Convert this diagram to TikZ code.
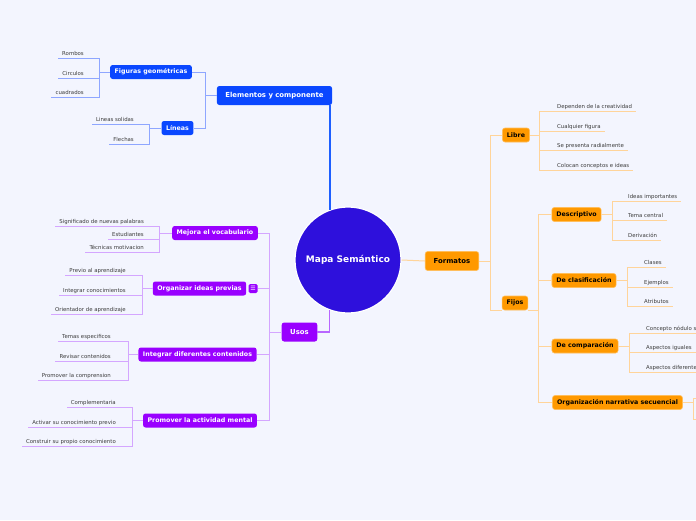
\documentclass[tikz,border=0pt]{standalone}
\usepackage{fontspec}
\setmainfont{DejaVu Sans}
\usetikzlibrary{positioning}
\definecolor{bgblue}{HTML}{F3F5FE}
\definecolor{centreblue}{HTML}{2E10DC}
\definecolor{nodeblue}{HTML}{0A47FF}
\definecolor{linkblue}{HTML}{8EA6FF}
\definecolor{stemblue}{RGB}{30,95,255}
\definecolor{nodepurple}{HTML}{9900FF}
\definecolor{linkpurple}{HTML}{D4A6FF}
\definecolor{stempurple}{HTML}{B866FF}
\definecolor{nodeorange}{HTML}{FF9900}
\definecolor{edgeorange}{HTML}{FFBE5C}
\definecolor{linkorange}{HTML}{FFD49A}
\definecolor{leaftext}{HTML}{3C3C3C}
\tikzstyle{centre} = [circle, fill=centreblue, draw=white, line width=1.2pt, minimum size=106pt, inner sep=0pt, text=white, font=\fontsize{9}{10}\selectfont\bfseries]
\tikzstyle{main} = [rounded corners=2.5pt, minimum height=19pt, inner xsep=8.5pt, inner ysep=0pt, font=\fontsize{6.9}{8}\selectfont\bfseries]
\tikzstyle{sub} = [rounded corners=2.5pt, minimum height=14pt, inner xsep=4.5pt, inner ysep=0pt, font=\fontsize{6.3}{7}\selectfont\bfseries]
\tikzstyle{mainblue} = [main, fill=nodeblue, text=white]
\tikzstyle{mainpurple} = [main, fill=nodepurple, text=white]
\tikzstyle{mainorange} = [main, fill=nodeorange, draw=edgeorange, line width=0.6pt, text=black]
\tikzstyle{subblue} = [sub, fill=nodeblue, text=white]
\tikzstyle{subpurple} = [sub, fill=nodepurple, text=white]
\tikzstyle{suborange} = [sub, fill=nodeorange, draw=edgeorange, line width=0.6pt, text=black]
\tikzstyle{notebox} = [rounded corners=1.5pt, fill=nodepurple, text=white, minimum size=9pt, inner sep=0pt, font=\fontsize{6}{6}\selectfont]
\tikzstyle{leaf} = [font=\fontsize{5.4}{6}\selectfont, text=leaftext, inner xsep=4pt, inner ysep=1.5pt, text height=4pt, text depth=1pt]
\tikzstyle{bluelink} = [draw=linkblue, line width=1pt]
\tikzstyle{stem} = [draw=stemblue, line width=2pt]
\tikzstyle{purplestem} = [draw=stempurple, line width=1.5pt]
\tikzstyle{purplelink} = [draw=linkpurple, line width=1pt]
\tikzstyle{orangelink} = [draw=linkorange, line width=1pt]

\begin{document}
\begin{tikzpicture}[x=1pt,y=-1pt]
        % Background
        \path[fill=bgblue, use as bounding box] (0,0) rectangle (696,520);
        \clip (0,0) rectangle (696,520);

        % Centre and main branches
        \node (mapa) [centre] at (348,260) {Mapa Semántico};
        \node (elementos) [mainblue] at (274.5,95.5) {Elementos y componente};
        \node (usos) [mainpurple] at (299.5,332) {Usos};
        \node (formatos) [mainorange] at (452,261) {Formatos};

        % Elementos y componente
        \node (figuras) [subblue] at (151,72) {Figuras geométricas};
        \node (lineas) [subblue] at (177.5,128) {Líneas};
        \node (rombos) [leaf, anchor=south east] at (88,58) {Rombos};
        \node (circulos) [leaf, anchor=south east] at (88,78) {Circulos};
        \node (cuadrados) [leaf, anchor=south east] at (88,97) {cuadrados};
        \node (solidas) [leaf, anchor=south east] at (138,124) {Lineas solidas};
        \node (flechas) [leaf, anchor=south east] at (138,144) {Flechas};

        % Usos
        \node (mejora) [subpurple] at (215,233) {Mejora el vocabulario};
        \node (organizar) [subpurple] at (199.5,288.5) {Organizar ideas previas};
        \node (nota) [notebox, right=2pt of organizar] {☰};
        \node (integrar) [subpurple] at (197.5,354.5) {Integrar diferentes contenidos};
        \node (promover) [subpurple] at (200,420.5) {Promover la actividad mental};
        \node (significado) [leaf, anchor=south east] at (148,226) {Significado de nuevas palabras};
        \node (estudiantes) [leaf, anchor=south east] at (148,239) {Estudiantes};
        \node (tecnicas) [leaf, anchor=south east] at (148,252) {Técnicas motivacion};
        \node (previo) [leaf, anchor=south east] at (130,275) {Previo al aprendizaje};
        \node (conocimientos) [leaf, anchor=south east] at (130,295) {Integrar conocimientos};
        \node (orientador) [leaf, anchor=south east] at (130,314) {Orientador de aprendizaje};
        \node (temas) [leaf, anchor=south east] at (115,341) {Temas especificos};
        \node (revisar) [leaf, anchor=south east] at (115,361) {Revisar contenidos};
        \node (comprension) [leaf, anchor=south east] at (115,380) {Promover la comprension};
        \node (complementaria) [leaf, anchor=south east] at (120,407) {Complementaria};
        \node (activar) [leaf, anchor=south east] at (120,427) {Activar su conocimiento previo};
        \node (construir) [leaf, anchor=south east] at (120,446) {Construir su propio conocimiento};

        % Formatos
        \node (libre) [suborange] at (516,135) {Libre};
        \node (fijos) [suborange] at (515,303) {Fijos};
        \node (dependen) [leaf, anchor=south west] at (553,111) {Dependen de la creatividad};
        \node (figura) [leaf, anchor=south west] at (553,131) {Cualquier figura};
        \node (radial) [leaf, anchor=south west] at (553,150) {Se presenta radialmente};
        \node (colocan) [leaf, anchor=south west] at (553,170) {Colocan conceptos e ideas};
        \node (descriptivo) [suborange] at (576.5,214.5) {Descriptivo};
        \node (clasificacion) [suborange] at (584,280.5) {De clasificación};
        \node (comparacion) [suborange] at (585,346) {De comparación};
        \node (narrativa) [suborange] at (617.5,402.5) {Organización narrativa secuencial};
        \node (ideas) [leaf, anchor=south west] at (624,201) {Ideas importantes};
        \node (tema) [leaf, anchor=south west] at (624,220) {Tema central};
        \node (derivacion) [leaf, anchor=south west] at (624,240) {Derivación};
        \node (clases) [leaf, anchor=south west] at (640,267) {Clases};
        \node (ejemplos) [leaf, anchor=south west] at (640,287) {Ejemplos};
        \node (atributos) [leaf, anchor=south west] at (640,306) {Atributos};
        \node (nodulo) [leaf, anchor=south west] at (642,333) {Concepto nódulo s};
        \node (iguales) [leaf, anchor=south west] at (642,352) {Aspectos iguales};
        \node (diferentes) [leaf, anchor=south west] at (642,372) {Aspectos diferente};
        \coordinate (narrA) at (700,398);
        \coordinate (narrB) at (700,419);

        % Connections centre
        \draw[stem] (mapa.110) -- (mapa.110 |- elementos.south);
        \draw[purplestem] (mapa.250) |- (usos.east);
        \draw[orangelink] (mapa.east) -- (formatos.west);

        % Connections Elementos y componente
        \draw[bluelink] (elementos.west) -- ++(-11,0) |- (figuras.east);
        \draw[bluelink] (elementos.west) -- ++(-11,0) |- (lineas.east);
        \draw[bluelink] (figuras.west) -- ++(-10,0) |- (rombos.south west);
        \draw[bluelink] (figuras.west) -- ++(-10,0) |- (circulos.south west);
        \draw[bluelink] (figuras.west) -- ++(-10,0) |- (cuadrados.south west);
        \draw[bluelink] (lineas.west) -- ++(-12,0) |- (solidas.south west);
        \draw[bluelink] (lineas.west) -- ++(-12,0) |- (flechas.south west);

        % Connections Usos
        \draw[purplelink] (usos.west) -- ++(-12,0) |- (mejora.east);
        \draw[purplelink] (usos.west) -- ++(-12,0) |- (nota.east);
        \draw[purplelink] (usos.west) -- ++(-12,0) |- (integrar.east);
        \draw[purplelink] (usos.west) -- ++(-12,0) |- (promover.east);
        \draw[purplelink] (mejora.west) -- ++(-12,0) |- (significado.south west);
        \draw[purplelink] (mejora.west) -- ++(-12,0) |- (estudiantes.south west);
        \draw[purplelink] (mejora.west) -- ++(-12,0) |- (tecnicas.south west);
        \draw[purplelink] (organizar.west) -- ++(-10,0) |- (previo.south west);
        \draw[purplelink] (organizar.west) -- ++(-10,0) |- (conocimientos.south west);
        \draw[purplelink] (organizar.west) -- ++(-10,0) |- (orientador.south west);
        \draw[purplelink] (integrar.west) -- ++(-10,0) |- (temas.south west);
        \draw[purplelink] (integrar.west) -- ++(-10,0) |- (revisar.south west);
        \draw[purplelink] (integrar.west) -- ++(-10,0) |- (comprension.south west);
        \draw[purplelink] (promover.west) -- ++(-10,0) |- (complementaria.south west);
        \draw[purplelink] (promover.west) -- ++(-10,0) |- (activar.south west);
        \draw[purplelink] (promover.west) -- ++(-10,0) |- (construir.south west);

        % Connections Formatos
        \draw[orangelink] (formatos.east) -- ++(11,0) |- (libre.west);
        \draw[orangelink] (formatos.east) -- ++(11,0) |- (fijos.south west);
        \draw[orangelink] (libre.east) -- ++(10,0) |- (dependen.south east);
        \draw[orangelink] (libre.east) -- ++(10,0) |- (figura.south east);
        \draw[orangelink] (libre.east) -- ++(10,0) |- (radial.south east);
        \draw[orangelink] (libre.east) -- ++(10,0) |- (colocan.south east);
        \draw[orangelink] (fijos.south east) -- ++(10,0) |- (descriptivo.west);
        \draw[orangelink] (fijos.south east) -- ++(10,0) |- (clasificacion.west);
        \draw[orangelink] (fijos.south east) -- ++(10,0) |- (comparacion.west);
        \draw[orangelink] (fijos.south east) -- ++(10,0) |- (narrativa.west);
        \draw[orangelink] (descriptivo.east) -- ++(11,0) |- (ideas.south east);
        \draw[orangelink] (descriptivo.east) -- ++(11,0) |- (tema.south east);
        \draw[orangelink] (descriptivo.east) -- ++(11,0) |- (derivacion.south east);
        \draw[orangelink] (clasificacion.east) -- ++(11,0) |- (clases.south east);
        \draw[orangelink] (clasificacion.east) -- ++(11,0) |- (ejemplos.south east);
        \draw[orangelink] (clasificacion.east) -- ++(11,0) |- (atributos.south east);
        \draw[orangelink] (comparacion.east) -- ++(11,0) |- (nodulo.south east);
        \draw[orangelink] (comparacion.east) -- ++(11,0) |- (iguales.south east);
        \draw[orangelink] (comparacion.east) -- ++(11,0) |- (diferentes.south east);
        \draw[orangelink] (narrativa.east) -- ++(11,0) |- (narrA);
        \draw[orangelink] (narrativa.east) -- ++(11,0) |- (narrB);
\end{tikzpicture}
\end{document}
